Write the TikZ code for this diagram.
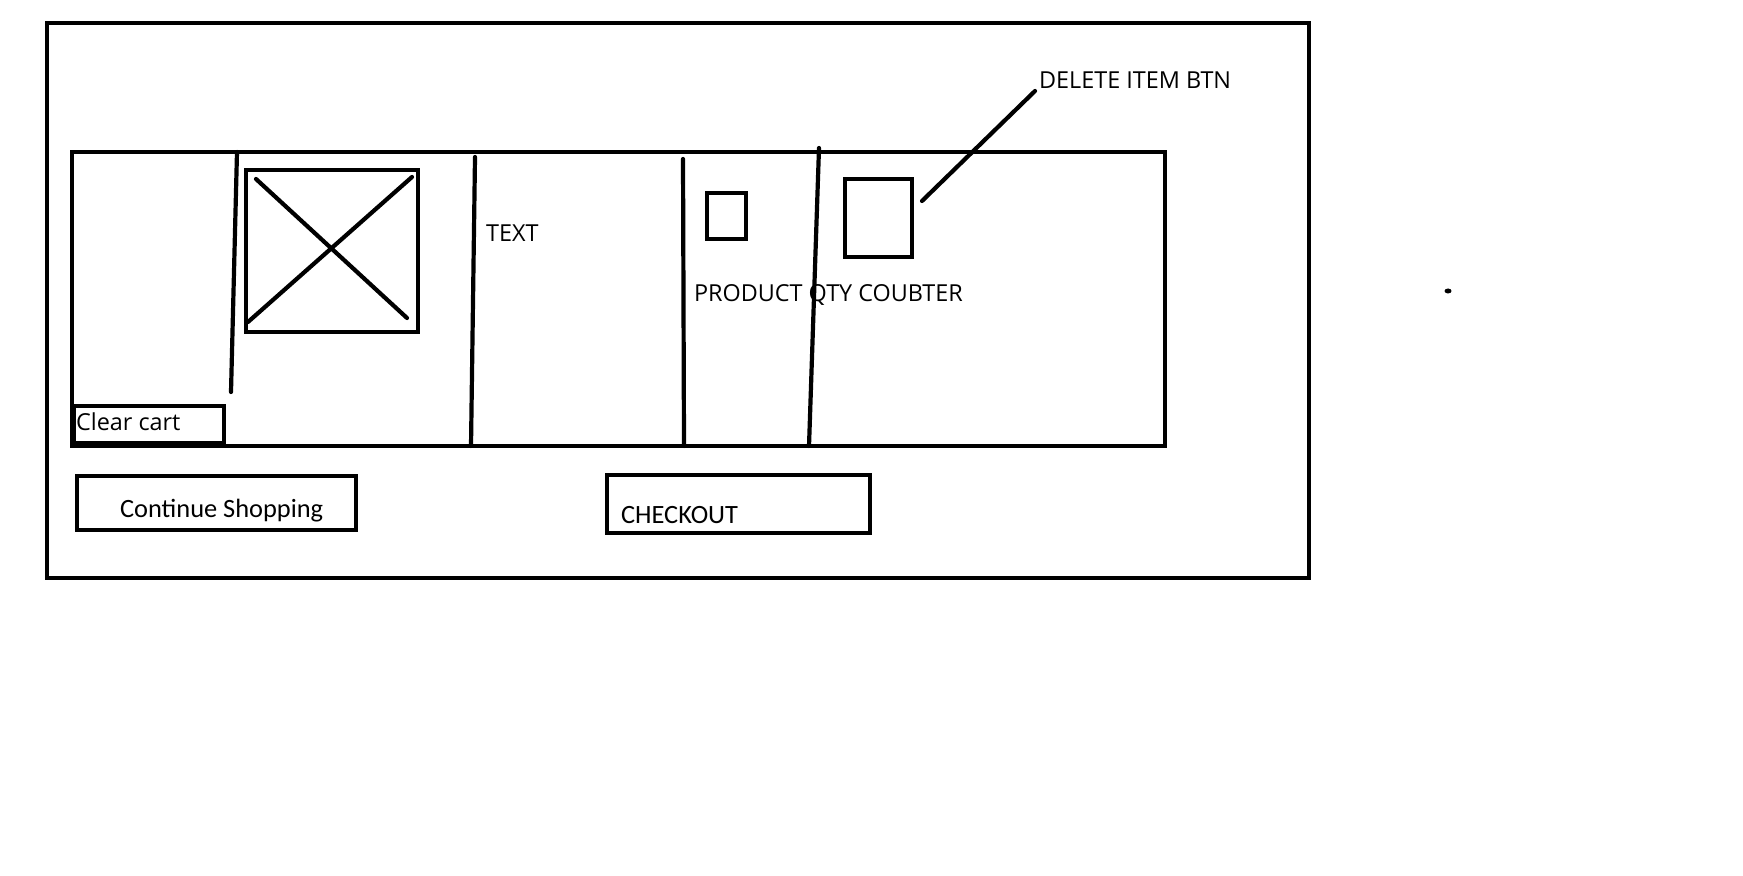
\documentclass[tikz,border=0pt]{standalone}
\usepackage{fontspec}
\setmainfont{Open Sans}
\newfontfamily\btnfont{Carlito}
\usetikzlibrary{positioning}

\begin{document}
\begin{tikzpicture}[x=0.5pt, y=-0.5pt, line width=2.1pt,
    box/.style={draw, rectangle, inner sep=0pt, outer sep=0pt, anchor=north west},
    lbl/.style={inner sep=0pt, anchor=base west, font=\fontsize{11.7}{14}\selectfont},
    btnlbl/.style={inner sep=0pt, anchor=base west, font=\btnfont\fontsize{13.2}{15}\selectfont}]
\useasboundingbox (0,0) rectangle (1743,876);
% frame and cart row
\node[box, line width=2.4pt, minimum width=631pt, minimum height=277.5pt] (page) at (47,23) {};
\node[box, minimum width=546.5pt, minimum height=147pt] (cartrow) at (72,152) {};
% hand drawn column dividers
\draw[line cap=round] (237,152) -- (231,392);
\draw[line cap=round] (475,157) -- (471,446);
\draw[line cap=round] (683,159) -- (684,446);
\draw[line cap=round] (819,148) -- (809,446);
% product image placeholder
\node[box, minimum width=86pt, minimum height=81pt] (img) at (246,170) {};
\draw[line cap=round] (256,179) -- (407,318);
\draw[line cap=round] (248,322) -- (412,177);
\node[lbl] (txt) at (484,242) {TEXT};
\node[box, minimum width=19.5pt, minimum height=23pt] (qty) at (707,193) {};
\node[lbl] (qtylbl) at (692,302) {PRODUCT QTY COUBTER};
\node[box, minimum width=33.5pt, minimum height=39pt] (del) at (845,179) {};
\coordinate (deltip) at (922,201);
\node[lbl] (dellbl) at (1037,89) {DELETE ITEM BTN};
\draw[line cap=round] (deltip) -- ([xshift=-1pt, yshift=-1pt]dellbl.base west);
% buttons
\node[box, minimum width=75pt, minimum height=18.5pt] (clear) at (74,406) {};
\node[lbl] (clearlbl) at (74,430) {Clear cart};
\node[box, minimum width=139.5pt, minimum height=27pt] (cont) at (77,476) {};
\node[btnlbl] (contlbl) at (118,517) {Continue Shopping};
\node[box, minimum width=131.5pt, minimum height=29pt] (checkout) at (607,475) {};
\node[btnlbl] (checklbl) at (619,523) {CHECKOUT};
% stray dot
\fill (1448,291) ellipse (3.5 and 2.5);
\end{tikzpicture}
\end{document}
